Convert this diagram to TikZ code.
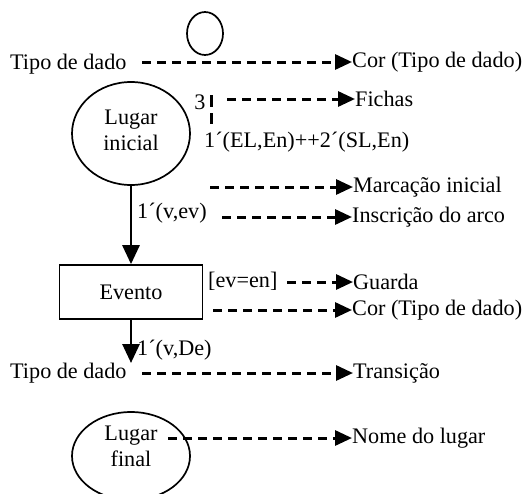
\documentclass[tikz,border=0pt]{standalone}
\usepackage{fontspec}
\setmainfont{Liberation Serif}
\usetikzlibrary{arrows.meta,positioning,shapes.geometric}
\tikzset{
  dar/.style={-{Triangle[length=17pt,width=15pt]},line width=3pt,dash pattern=on 9pt off 6pt},
  ar/.style={-{Triangle[length=19pt,width=17pt]},line width=2.8pt},
  lugar/.style={ellipse,draw,line width=1.7pt,minimum width=118pt,minimum height=103pt,inner sep=0pt},
  lbl/.style={anchor=west,inner sep=0pt},
  txt/.style={inner sep=0pt,align=center}
}

\begin{document}
\begin{tikzpicture}[x=1pt,y=-1pt,font=\fontsize{22.2}{25.5}\selectfont]
\useasboundingbox (0,0) rectangle (524,493);
\clip (0,0) rectangle (524,493);
% ficha e cor
\node[ellipse,draw,line width=1.7pt,minimum width=36pt,minimum height=43pt] (ficha) at (205,33.5) {};
\node[lbl] (tipo1) at (10,64) {Tipo de dado};
\node[lbl] (cor1) at (352,62) {Cor (Tipo de dado)};
\coordinate (c1) at (142,62);
\draw[dar] (c1) -- (c1 -| cor1.west);
% lugar inicial
\node[lugar] (inicial) at (131,133.5) {};
\node[txt] (inicialtxt) at (131,130.5) {Lugar\\inicial};
\node[txt] (tres) at (200,102) {3};
\coordinate (m0) at (211,95);
\coordinate (m1) at (211,124);
\draw[line width=3pt,dash pattern=on 12pt off 6pt] (m0) -- (m1);
\node[lbl] (fichas) at (355,99) {Fichas};
\coordinate (f0) at (227,99);
\draw[dar] (f0) -- (f0 -| fichas.west);
\node[lbl] (marc0) at (204,142) {1´(EL,En)++2´(SL,En)};
\node[lbl] (marcacao) at (353,187) {Marcação inicial};
\coordinate (mc) at (210,187);
\draw[dar] (mc) -- (mc -| marcacao.west);
% evento
\node[draw,line width=1.7pt,minimum width=143pt,minimum height=54pt] (evento) at (131,292) {Evento};
\draw[ar] (inicial.south) -- (evento.north);
\node[lbl] (insc0) at (137,213) {1´(v,ev)};
\node[lbl] (insc) at (352,217) {Inscrição do arco};
\coordinate (i0) at (222,217);
\draw[dar] (i0) -- (i0 -| insc.west);
\node[lbl] (guard0) at (208,281) {[ev=en]};
\node[lbl] (guarda) at (353,282) {Guarda};
\coordinate (g0) at (287,282);
\draw[dar] (g0) -- (g0 -| guarda.west);
\node[lbl] (cor2) at (352,310) {Cor (Tipo de dado)};
\coordinate (c2) at (213,310);
\draw[dar] (c2) -- (c2 -| cor2.west);
% transicao
\coordinate (t2) at (131,363);
\draw[ar] (evento.south) -- (t2);
\node[lbl] (arco2) at (137,350) {1´(v,De)};
\node[lbl] (tipo2) at (10,373) {Tipo de dado};
\node[lbl] (trans) at (353,373) {Transição};
\coordinate (tr) at (142,373);
\draw[dar] (tr) -- (tr -| trans.west);
% lugar final
\node[lugar,minimum height=88pt] (final) at (131,456) {};
\node[txt] (finaltxt) at (131,446.5) {Lugar\\final};
\node[lbl] (nome) at (352,438) {Nome do lugar};
\coordinate (n0) at (168,438);
\draw[dar] (n0) -- (n0 -| nome.west);
\end{tikzpicture}
\end{document}
